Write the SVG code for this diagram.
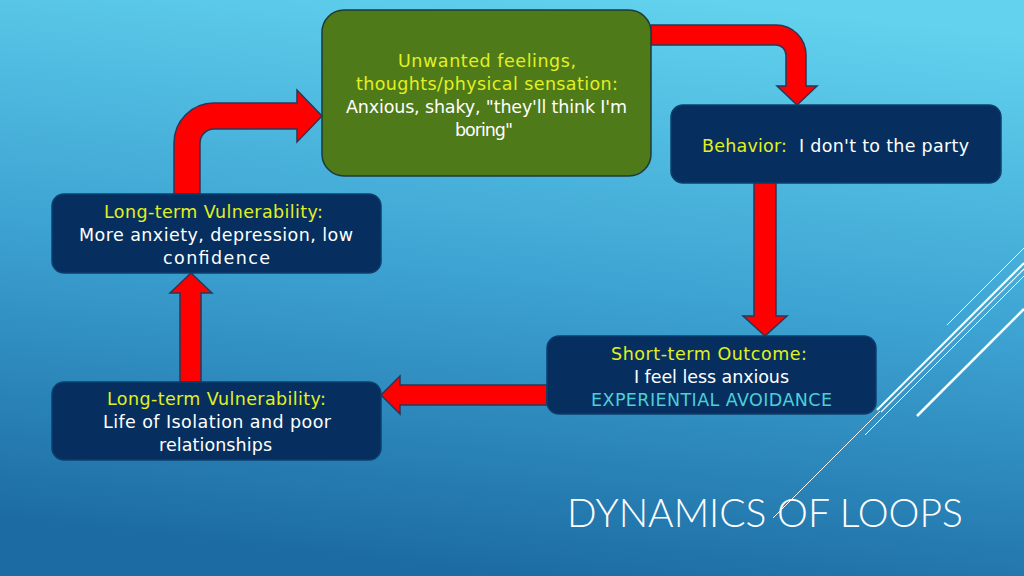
<svg xmlns="http://www.w3.org/2000/svg" width="1024" height="576" viewBox="0 0 1024 576">
<defs>
<linearGradient id="bg" x1="0.7" y1="0" x2="0.5" y2="1">
<stop offset="0" stop-color="#62d2ee"/>
<stop offset="0.5" stop-color="#3da3d2"/>
<stop offset="1" stop-color="#1c6ca3"/>
</linearGradient>
<style>
.box{fill:#062f5f;stroke:#0c3f6e;stroke-width:1.5}
.green{fill:#4f7a1a;stroke:#1c3b3a;stroke-width:1.5}
.arrow{fill:#ff0000;stroke:#283858;stroke-width:1.5;stroke-linejoin:miter}
text{font-family:"DejaVu Sans","Liberation Sans",sans-serif;font-size:17.5px;text-anchor:middle;fill:#ffffff}
.y{fill:#e2f020}
.t{fill:#4ccfd8}
.s{text-anchor:start}
.deco{stroke:#ffffff;fill:none}
</style>
</defs>
<rect width="1024" height="576" fill="url(#bg)"/>
<g id="decor" class="deco">
<line x1="947" y1="325" x2="1024" y2="248" stroke-width="1"/>
<line x1="877" y1="410" x2="1024" y2="263" stroke-width="2"/>
<line x1="881" y1="412" x2="1024" y2="269" stroke-width="1.2"/>
<line x1="865" y1="435" x2="1024" y2="276" stroke-width="1"/>
<line x1="917" y1="416" x2="1024" y2="309" stroke-width="2.5"/>
<line x1="773" y1="518" x2="880" y2="411" stroke-width="1"/>
</g>
<g id="connectors">
<path class="arrow" d="M651,25 H776 A30,30 0 0 1 806,55 V86 H817 L797,105 L777,86 H786 V55 A10,10 0 0 0 776,45 H651 Z"/>
<path class="arrow" d="M754,183 V316 H743 L765,336 L787,316 H776 V183 Z"/>
<path class="arrow" d="M547,385 H400 V376 L381,395 L400,414 V405 H547 Z"/>
<path class="arrow" d="M180,382 V293 H170 L191,273 L212,293 H201 V382 Z"/>
<path class="arrow" d="M174,194 V143 A40,40 0 0 1 214,103 H297 V90 L322,116 L297,142 V129 H214 A14,14 0 0 0 200,143 V194 Z"/>
</g>
<g id="node-feelings">
<rect class="green" x="322" y="10" width="329" height="166" rx="22"/>
<text x="487" y="67" class="y" textLength="178" lengthAdjust="spacing">Unwanted feelings,</text>
<text x="487" y="90" class="y" textLength="262" lengthAdjust="spacing">thoughts/physical sensation:</text>
<text x="486.5" y="113" textLength="281" lengthAdjust="spacing">Anxious, shaky, "they'll think I'm</text>
<text x="484" y="136" textLength="58" lengthAdjust="spacing">boring"</text>
</g>
<g id="node-behavior">
<rect class="box" x="671" y="105" width="330" height="78" rx="12"/>
<text x="702" y="152" class="y s" textLength="85" lengthAdjust="spacing">Behavior:</text>
<text x="799" y="152" class="s" textLength="170" lengthAdjust="spacing">I don't to the party</text>
</g>
<g id="node-shortterm">
<rect class="box" x="547" y="336" width="329" height="78" rx="12"/>
<text x="709" y="360" class="y" textLength="196" lengthAdjust="spacing">Short-term Outcome:</text>
<text x="711.5" y="383" textLength="155" lengthAdjust="spacing">I feel less anxious</text>
<text x="711.5" y="406" class="t" textLength="241" lengthAdjust="spacing">EXPERIENTIAL AVOIDANCE</text>
</g>
<g id="node-longterm2">
<rect class="box" x="52" y="382" width="329" height="78" rx="12"/>
<text x="216.5" y="405" class="y" textLength="219" lengthAdjust="spacing">Long-term Vulnerability:</text>
<text x="217" y="428" textLength="228" lengthAdjust="spacing">Life of Isolation and poor</text>
<text x="215.5" y="451" textLength="113" lengthAdjust="spacing">relationships</text>
</g>
<g id="node-longterm1">
<rect class="box" x="52" y="194" width="329" height="79" rx="12"/>
<text x="213.5" y="218" class="y" textLength="219" lengthAdjust="spacing">Long-term Vulnerability:</text>
<text x="216" y="241" textLength="274" lengthAdjust="spacing">More anxiety, depression, low</text>
<text x="216.5" y="264" textLength="107" lengthAdjust="spacing">confidence</text>
</g>
<g id="title">
<text x="765" y="527" style="font-size:39px;font-family:'Lato','Liberation Sans',sans-serif;font-weight:300">DYNAMICS OF LOOPS</text>
</g>
</svg>
